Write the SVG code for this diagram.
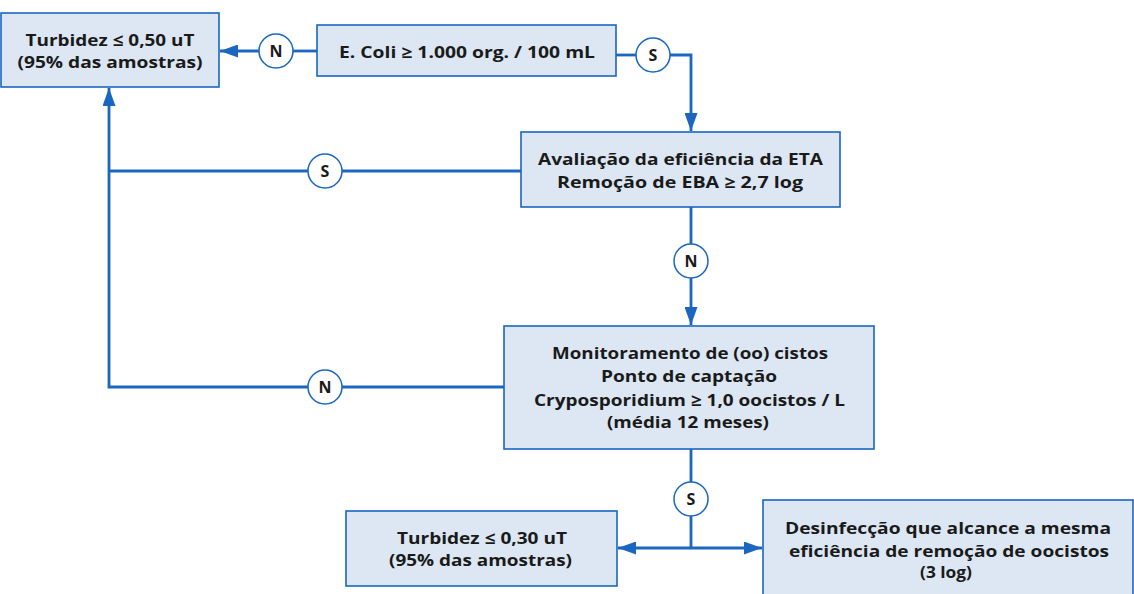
<svg xmlns="http://www.w3.org/2000/svg" width="1134" height="594" viewBox="0 0 1134 594">
<style>
.box{fill:#dce7f3;stroke:#1a66c0;stroke-width:1.6}
.t{font-family:"Open Sans","DejaVu Sans",sans-serif;font-weight:700;font-size:16.5px;fill:#1a1a1a;text-anchor:middle}
.c{fill:#fff;stroke:#1a66c0;stroke-width:1.5}
.ct{font-family:"Open Sans","DejaVu Sans",sans-serif;font-weight:700;font-size:16px;fill:#1a1a1a;text-anchor:middle}
.ln{fill:none;stroke:#1a66c0;stroke-width:2.8}
</style>
<defs>
<marker id="ah" viewBox="0 0 18 13" refX="18" refY="6.5" markerWidth="18" markerHeight="13" markerUnits="userSpaceOnUse" orient="auto">
<path d="M0,0 L18,6.5 L0,13 Z" fill="#1a66c0"/>
</marker>
</defs>
<rect width="1134" height="594" fill="#fff"/>
<g id="connectors">
<path class="ln" d="M259,51 L220,51" marker-end="url(#ah)"/>
<path class="ln" d="M317,51 L293,51"/>
<path class="ln" d="M616,55 L636,55"/>
<path class="ln" d="M670,55 L691,55 L691,131" marker-end="url(#ah)"/>
<path class="ln" d="M691,207 L691,244"/>
<path class="ln" d="M691,278 L691,325" marker-end="url(#ah)"/>
<path class="ln" d="M521,171 L342,171"/>
<path class="ln" d="M308,171 L109,171"/>
<path class="ln" d="M504,387 L342,387"/>
<path class="ln" d="M308,387 L109,387 L109,88" marker-end="url(#ah)"/>
<path class="ln" d="M691,449 L691,482"/>
<path class="ln" d="M691,516 L691,548"/>
<path class="ln" d="M691,548 L618,548" marker-end="url(#ah)"/>
<path class="ln" d="M691,548 L762,548" marker-end="url(#ah)"/>
</g>
<g id="n_turb050">
<rect class="box" x="1" y="13" width="218" height="74"/>
<text class="t" x="110" y="46" textLength="169" lengthAdjust="spacingAndGlyphs">Turbidez ≤ 0,50 uT</text>
<text class="t" x="110" y="68" textLength="185" lengthAdjust="spacingAndGlyphs">(95% das amostras)</text>
</g>
<g id="n_ecoli">
<rect class="box" x="317" y="25" width="299" height="51"/>
<text class="t" x="467" y="58" textLength="256" lengthAdjust="spacingAndGlyphs">E. Coli ≥ 1.000 org. / 100 mL</text>
</g>
<g id="n_aval">
<rect class="box" x="521" y="132" width="319" height="75"/>
<text class="t" x="680.5" y="165" textLength="285" lengthAdjust="spacingAndGlyphs">Avaliação da eficiência da ETA</text>
<text class="t" x="680" y="188" textLength="246" lengthAdjust="spacingAndGlyphs">Remoção de EBA ≥ 2,7 log</text>
</g>
<g id="n_monit">
<rect class="box" x="504" y="326" width="370" height="123"/>
<text class="t" x="690" y="359" textLength="276" lengthAdjust="spacingAndGlyphs">Monitoramento de (oo) cistos</text>
<text class="t" x="689" y="382" textLength="176" lengthAdjust="spacingAndGlyphs">Ponto de captação</text>
<text class="t" x="689.5" y="405.5" textLength="311" lengthAdjust="spacingAndGlyphs">Cryposporidium ≥ 1,0 oocistos / L</text>
<text class="t" x="688" y="428" textLength="162" lengthAdjust="spacingAndGlyphs">(média 12 meses)</text>
</g>
<g id="n_turb030">
<rect class="box" x="346" y="511" width="271" height="75"/>
<text class="t" x="482" y="544" textLength="170" lengthAdjust="spacingAndGlyphs">Turbidez ≤ 0,30 uT</text>
<text class="t" x="480.5" y="566" textLength="183" lengthAdjust="spacingAndGlyphs">(95% das amostras)</text>
</g>
<g id="n_desinf">
<rect class="box" x="763" y="500" width="370" height="100"/>
<text class="t" x="948" y="534" textLength="326" lengthAdjust="spacingAndGlyphs">Desinfecção que alcance a mesma</text>
<text class="t" x="949" y="557" textLength="320" lengthAdjust="spacingAndGlyphs">eficiência de remoção de oocistos</text>
<text class="t" x="946" y="578" textLength="52" lengthAdjust="spacingAndGlyphs">(3 log)</text>
</g>
<g id="c1"><circle class="c" cx="276" cy="51" r="17"/><text class="ct" x="276" y="57">N</text></g>
<g id="c2"><circle class="c" cx="653" cy="55" r="17"/><text class="ct" x="653" y="61">S</text></g>
<g id="c3"><circle class="c" cx="691" cy="261" r="17"/><text class="ct" x="691" y="267">N</text></g>
<g id="c4"><circle class="c" cx="325" cy="171" r="17"/><text class="ct" x="325" y="177">S</text></g>
<g id="c5"><circle class="c" cx="325" cy="387" r="17"/><text class="ct" x="325" y="393">N</text></g>
<g id="c6"><circle class="c" cx="691" cy="499" r="17"/><text class="ct" x="691" y="505">S</text></g>
</svg>
